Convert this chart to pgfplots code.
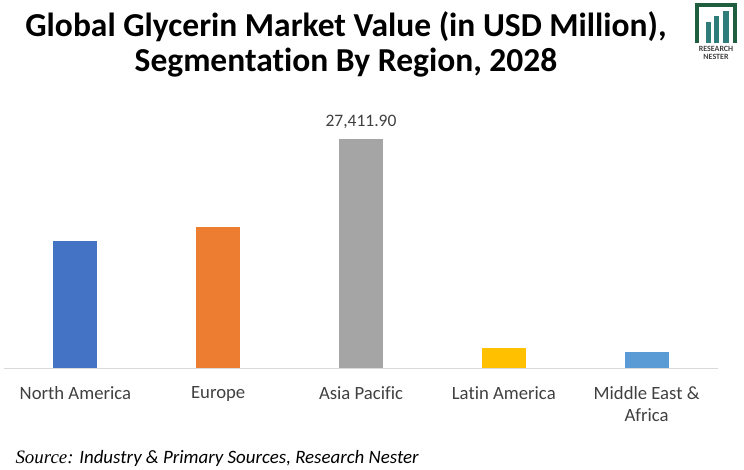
\documentclass[border=0pt]{standalone}
\usepackage{pgfplots}
\pgfplotsset{compat=1.18}
\usepackage{fontspec}
\setmainfont{Carlito}[Ligatures=NoCommon]
\newfontfamily\srcfont{Liberation Serif}
\definecolor{cNA}{HTML}{4472C4}
\definecolor{cEU}{HTML}{ED7D31}
\definecolor{cAP}{HTML}{A5A5A5}
\definecolor{cLA}{HTML}{FFC000}
\definecolor{cME}{HTML}{5B9BD5}
\definecolor{labelgray}{HTML}{404040}
\definecolor{linegray}{HTML}{D9D9D9}
\definecolor{logogreen}{HTML}{1F5F3F}
\definecolor{logobar}{HTML}{2E7D7A}
\begin{document}
\begin{tikzpicture}
\useasboundingbox (0,0) rectangle (744pt,-469pt);
\begin{axis}[
  at={(4pt,-368pt)}, anchor=south west,
  scale only axis, width=714pt, height=268pt,
  xmin=-0.5, xmax=4.5, ymin=0, ymax=32080,
  hide y axis,
  axis x line*=bottom,
  x axis line style={draw=linegray, line width=1pt},
  xtick={0,1,2,3,4},
  xticklabels={North America, Europe, Asia Pacific, Latin America, {Middle East \&\\Africa}},
  xticklabel style={align=center, text=labelgray, font=\fontsize{18.7}{22}\selectfont, yshift=-15pt},
  major tick length=0pt,
  ybar, bar width=44pt,
  clip=false,
]
\addplot[fill=cNA, draw=none, bar shift=0pt] coordinates {(0,15200)};
\addplot[fill=cEU, draw=none, bar shift=0pt] coordinates {(1,16880)};
\addplot[fill=cAP, draw=none, bar shift=0pt,
  nodes near coords={27,411.90},
  every node near coord/.append style={text=labelgray, font=\fontsize{17.5}{20}\selectfont, yshift=7pt}] coordinates {(2,27411.9)};
\addplot[fill=cLA, draw=none, bar shift=0pt] coordinates {(3,2390)};
\addplot[fill=cME, draw=none, bar shift=0pt] coordinates {(4,1910)};
\end{axis}
% title
\node[align=center, font=\fontsize{33.5}{35}\selectfont\bfseries] at (346pt,-44pt)
  {Global Glycerin Market Value (in USD Million),\\Segmentation By Region, 2028};
% source
\node[anchor=west, font=\fontsize{18.9}{20}\selectfont\itshape] at (12pt,-458pt)
  {{\srcfont Source:} Industry \& Primary Sources, Research Nester};
% logo
\draw[logogreen, line width=4pt] (697pt,-43pt) -- (697pt,-5pt) -- (735pt,-5pt) -- (735pt,-43pt);
\fill[logobar] (706pt,-43pt) rectangle (711pt,-22pt);
\fill[logobar] (714pt,-43pt) rectangle (719pt,-16pt);
\fill[logobar] (723pt,-43pt) rectangle (729pt,-11pt);
\node[font=\fontsize{8}{8}\selectfont\bfseries, text=labelgray, align=center] at (716pt,-53pt) {RESEARCH\\NESTER};
\end{tikzpicture}
\end{document}
